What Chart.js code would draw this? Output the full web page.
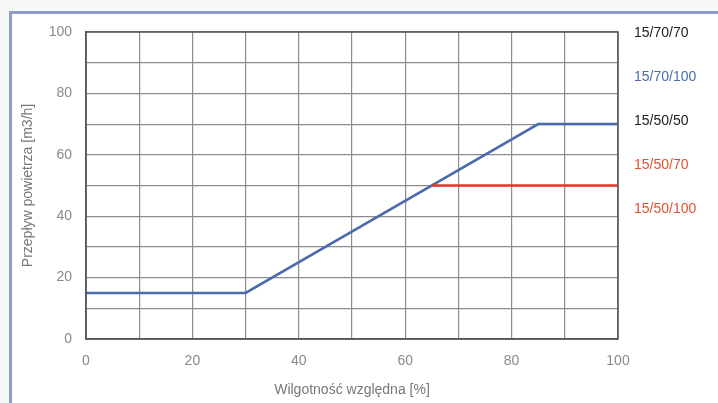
<!DOCTYPE html>
<html>
<head>
<meta charset="utf-8">
<script src="https://cdn.jsdelivr.net/npm/chart.js@4"></script>
<style>
  html, body { margin: 0; padding: 0; background: #f7f8fa; }
  #wrap { position: relative; width: 718px; height: 403px; overflow: hidden; }
  #frame { position: absolute; left: 9px; top: 11px; width: 709px; height: 392px; background: #fff;
           border-left: 3px solid #8d9fc6; border-top: 3px solid #8d9fc6; box-sizing: border-box; }
  canvas { position: absolute; left: 0; top: 0; }
  .lbl { position: absolute; left: 634px; font-family: "Liberation Sans", Arial, sans-serif; font-size: 14px; }
</style>
</head>
<body>
<div id="wrap">
  <div id="frame"></div>
  <canvas id="c" width="718" height="403"></canvas>
</div>
<script>
const blueX = [0, 30, 85, 100];
const blueY = [15, 15, 70, 70];
const redX = [65, 100];
const redY = [50, 50];
const sideLabels = ['15/70/70', '15/70/100', '15/50/50', '15/50/70', '15/50/100'];
const sideColors = ['#222222', '#4a6cae', '#222222', '#e4502f', '#e4502f'];
const sideTops = [24, 68, 112, 156, 200];
const xTitle = 'Wilgotność względna [%]';
const yTitle = 'Przepływ powietrza [m3/h]';

const wrap = document.getElementById('wrap');
sideLabels.forEach((t, i) => {
  const d = document.createElement('div');
  d.className = 'lbl';
  d.textContent = t;
  d.style.color = sideColors[i];
  d.style.top = sideTops[i] + 'px';
  wrap.appendChild(d);
});

const toPts = (xs, ys) => xs.map((x, i) => ({ x: x, y: ys[i] }));
const font = { family: '"Liberation Sans", Arial, sans-serif', size: 14 };

new Chart(document.getElementById('c'), {
  type: 'line',
  data: {
    datasets: [
      { data: toPts(redX, redY), borderColor: '#e8342c', borderWidth: 2.5, pointRadius: 0, fill: false },
      { data: toPts(blueX, blueY), borderColor: '#4a6cae', borderWidth: 2.5, pointRadius: 0, fill: false }
    ]
  },
  options: {
    responsive: false,
    animation: false,
    plugins: { legend: { display: false }, tooltip: { enabled: false } },
    layout: { padding: { left: 10, right: 100, top: 32, bottom: 0 } },
    scales: {
      x: {
        type: 'linear', min: 0, max: 100,
        afterFit: s => { s.height = 64; },
        grid: { color: '#8c8c8c', lineWidth: 1.2, drawTicks: false },
        border: { color: '#555', width: 1.5 },
        ticks: { stepSize: 10, color: '#8a8a8a', font: font, padding: 14, maxRotation: 0,
                 callback: v => (v % 20 === 0 ? v : '') },
        title: { display: true, text: xTitle, color: '#777', font: font, padding: { top: 4 } }
      },
      y: {
        min: 0, max: 100,
        afterFit: s => { s.width = 76; },
        grid: { color: '#8c8c8c', lineWidth: 1.2, drawTicks: false },
        border: { color: '#555', width: 1.5 },
        ticks: { stepSize: 10, color: '#8a8a8a', font: font, padding: 14,
                 callback: v => (v % 20 === 0 ? v : '') },
        title: { display: true, text: yTitle, color: '#777', font: font, padding: { top: 10, bottom: 4 } }
      }
    }
  },
  plugins: [{
    id: 'plotBorder',
    afterDatasetsDraw(chart) {
      const a = chart.chartArea, ctx = chart.ctx;
      ctx.save();
      ctx.strokeStyle = '#555';
      ctx.lineWidth = 1.5;
      ctx.strokeRect(a.left, a.top, a.right - a.left, a.bottom - a.top);
      ctx.restore();
    }
  }]
});
</script>
</body>
</html>
